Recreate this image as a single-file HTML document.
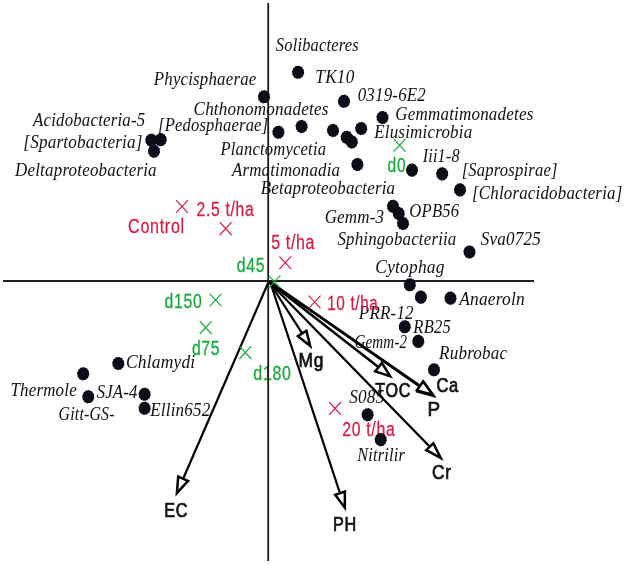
<!DOCTYPE html>
<html><head><meta charset="utf-8"><title>CCA biplot</title>
<style>html,body{margin:0;padding:0;background:#fff;width:625px;height:564px;overflow:hidden}svg{display:block}</style>
</head><body>
<svg width="625" height="564" viewBox="0 0 625 564">
<g opacity="0.999">
<text transform="translate(275.84,51.00) scale(0.9402,1.0500)" font-family="'Liberation Serif', serif" font-style="italic" font-size="17.5" fill="#111111" letter-spacing="0.2">Solibacteres</text>
<text transform="translate(315.36,82.60) scale(0.9863,1.0500)" font-family="'Liberation Serif', serif" font-style="italic" font-size="17.5" fill="#111111" letter-spacing="0.2">TK10</text>
<text transform="translate(153.77,85.40) scale(0.9640,1.0500)" font-family="'Liberation Serif', serif" font-style="italic" font-size="17.5" fill="#111111" letter-spacing="0.2">Phycisphaerae</text>
<text transform="translate(357.69,100.90) scale(0.9677,1.0500)" font-family="'Liberation Serif', serif" font-style="italic" font-size="17.5" fill="#111111" letter-spacing="0.2">0319-6E2</text>
<text transform="translate(193.55,114.90) scale(0.9763,1.0500)" font-family="'Liberation Serif', serif" font-style="italic" font-size="17.5" fill="#111111" letter-spacing="0.2">Chthonomonadetes</text>
<text transform="translate(395.35,120.10) scale(0.9723,1.0500)" font-family="'Liberation Serif', serif" font-style="italic" font-size="17.5" fill="#111111" letter-spacing="0.2">Gemmatimonadetes</text>
<text transform="translate(158.01,130.90) scale(0.9471,1.0500)" font-family="'Liberation Serif', serif" font-style="italic" font-size="17.5" fill="#111111" letter-spacing="0.2">[Pedosphaerae]</text>
<text transform="translate(33.01,125.90) scale(0.9618,1.0500)" font-family="'Liberation Serif', serif" font-style="italic" font-size="17.5" fill="#111111" letter-spacing="0.2">Acidobacteria-5</text>
<text transform="translate(23.27,147.60) scale(0.9819,1.0500)" font-family="'Liberation Serif', serif" font-style="italic" font-size="17.5" fill="#111111" letter-spacing="0.2">[Spartobacteria]</text>
<text transform="translate(14.97,175.60) scale(0.9723,1.0500)" font-family="'Liberation Serif', serif" font-style="italic" font-size="17.5" fill="#111111" letter-spacing="0.2">Deltaproteobacteria</text>
<text transform="translate(374.17,137.60) scale(0.9726,1.0500)" font-family="'Liberation Serif', serif" font-style="italic" font-size="17.5" fill="#111111" letter-spacing="0.2">Elusimicrobia</text>
<text transform="translate(220.47,155.00) scale(0.9473,1.0500)" font-family="'Liberation Serif', serif" font-style="italic" font-size="17.5" fill="#111111" letter-spacing="0.2">Planctomycetia</text>
<text transform="translate(231.91,176.20) scale(0.9636,1.0500)" font-family="'Liberation Serif', serif" font-style="italic" font-size="17.5" fill="#111111" letter-spacing="0.2">Armatimonadia</text>
<text transform="translate(422.66,162.40) scale(0.9248,1.0500)" font-family="'Liberation Serif', serif" font-style="italic" font-size="17.5" fill="#111111" letter-spacing="0.2">Iii1-8</text>
<text transform="translate(461.70,175.90) scale(0.9490,1.0500)" font-family="'Liberation Serif', serif" font-style="italic" font-size="17.5" fill="#111111" letter-spacing="0.2">[Saprospirae]</text>
<text transform="translate(260.83,193.70) scale(0.9676,1.0500)" font-family="'Liberation Serif', serif" font-style="italic" font-size="17.5" fill="#111111" letter-spacing="0.2">Betaproteobacteria</text>
<text transform="translate(471.98,198.60) scale(0.9671,1.0500)" font-family="'Liberation Serif', serif" font-style="italic" font-size="17.5" fill="#111111" letter-spacing="0.2">[Chloracidobacteria]</text>
<text transform="translate(324.65,222.90) scale(0.9708,1.0500)" font-family="'Liberation Serif', serif" font-style="italic" font-size="17.5" fill="#111111" letter-spacing="0.2">Gemm-3</text>
<text transform="translate(409.37,217.00) scale(0.9524,1.0500)" font-family="'Liberation Serif', serif" font-style="italic" font-size="17.5" fill="#111111" letter-spacing="0.2">OPB56</text>
<text transform="translate(337.43,245.20) scale(0.9619,1.0500)" font-family="'Liberation Serif', serif" font-style="italic" font-size="17.5" fill="#111111" letter-spacing="0.2">Sphingobacteriia</text>
<text transform="translate(480.83,244.90) scale(0.9754,1.0500)" font-family="'Liberation Serif', serif" font-style="italic" font-size="17.5" fill="#111111" letter-spacing="0.2">Sva0725</text>
<text transform="translate(375.33,272.90) scale(0.9960,1.0500)" font-family="'Liberation Serif', serif" font-style="italic" font-size="17.5" fill="#111111" letter-spacing="0.2">Cytophag</text>
<text transform="translate(459.24,305.00) scale(0.9936,1.0500)" font-family="'Liberation Serif', serif" font-style="italic" font-size="17.5" fill="#111111" letter-spacing="0.2">Anaeroln</text>
<text transform="translate(358.87,319.00) scale(0.9702,1.0500)" font-family="'Liberation Serif', serif" font-style="italic" font-size="17.5" fill="#111111" letter-spacing="0.2">PRR-12</text>
<text transform="translate(413.37,332.80) scale(0.9464,1.0500)" font-family="'Liberation Serif', serif" font-style="italic" font-size="17.5" fill="#111111" letter-spacing="0.2">RB25</text>
<text transform="translate(354.45,347.70) scale(0.8596,1.0500)" font-family="'Liberation Serif', serif" font-style="italic" font-size="17.5" fill="#111111" letter-spacing="0.2">Gemm-2</text>
<text transform="translate(439.07,358.70) scale(0.9753,1.0500)" font-family="'Liberation Serif', serif" font-style="italic" font-size="17.5" fill="#111111" letter-spacing="0.2">Rubrobac</text>
<text transform="translate(349.23,402.50) scale(0.9857,1.0500)" font-family="'Liberation Serif', serif" font-style="italic" font-size="17.5" fill="#111111" letter-spacing="0.2">S085</text>
<text transform="translate(357.16,460.70) scale(0.9361,1.0500)" font-family="'Liberation Serif', serif" font-style="italic" font-size="17.5" fill="#111111" letter-spacing="0.2">Nitrilir</text>
<text transform="translate(126.03,368.00) scale(0.9960,1.0500)" font-family="'Liberation Serif', serif" font-style="italic" font-size="17.5" fill="#111111" letter-spacing="0.2">Chlamydi</text>
<text transform="translate(10.48,396.20) scale(0.9668,1.0500)" font-family="'Liberation Serif', serif" font-style="italic" font-size="17.5" fill="#111111" letter-spacing="0.2">Thermole</text>
<text transform="translate(96.63,398.00) scale(0.9571,1.0500)" font-family="'Liberation Serif', serif" font-style="italic" font-size="17.5" fill="#111111" letter-spacing="0.2">SJA-4</text>
<text transform="translate(58.61,419.80) scale(0.9070,1.0500)" font-family="'Liberation Serif', serif" font-style="italic" font-size="17.5" fill="#111111" letter-spacing="0.2">Gitt-GS-</text>
<text transform="translate(150.17,415.90) scale(0.9740,1.0500)" font-family="'Liberation Serif', serif" font-style="italic" font-size="17.5" fill="#111111" letter-spacing="0.2">Ellin652</text>
<text transform="translate(128.09,233.10) scale(0.8571,1.0700)" font-family="'Liberation Sans', sans-serif" font-style="normal" font-size="18.8" fill="#d81b45" letter-spacing="0.8" stroke="#d81b45" stroke-width="0.25">Control</text>
<text transform="translate(196.61,216.10) scale(0.8357,1.0700)" font-family="'Liberation Sans', sans-serif" font-style="normal" font-size="18.8" fill="#d81b45" letter-spacing="0.8" stroke="#d81b45" stroke-width="0.25">2.5 t/ha</text>
<text transform="translate(271.16,249.20) scale(0.8475,1.0700)" font-family="'Liberation Sans', sans-serif" font-style="normal" font-size="18.8" fill="#d81b45" letter-spacing="0.8" stroke="#d81b45" stroke-width="0.25">5 t/ha</text>
<text transform="translate(327.13,309.90) scale(0.8151,1.0700)" font-family="'Liberation Sans', sans-serif" font-style="normal" font-size="18.8" fill="#d81b45" letter-spacing="0.8" stroke="#d81b45" stroke-width="0.25">10 t/ha</text>
<text transform="translate(342.21,436.30) scale(0.8442,1.0700)" font-family="'Liberation Sans', sans-serif" font-style="normal" font-size="18.8" fill="#d81b45" letter-spacing="0.8" stroke="#d81b45" stroke-width="0.25">20 t/ha</text>
<text transform="translate(387.58,171.80) scale(0.8274,1.0700)" font-family="'Liberation Sans', sans-serif" font-style="normal" font-size="18.8" fill="#16a83a" letter-spacing="0.8" stroke="#16a83a" stroke-width="0.25">d0</text>
<text transform="translate(236.87,271.90) scale(0.8390,1.0700)" font-family="'Liberation Sans', sans-serif" font-style="normal" font-size="18.8" fill="#16a83a" letter-spacing="0.8" stroke="#16a83a" stroke-width="0.25">d45</text>
<text transform="translate(164.57,307.80) scale(0.8399,1.0700)" font-family="'Liberation Sans', sans-serif" font-style="normal" font-size="18.8" fill="#16a83a" letter-spacing="0.8" stroke="#16a83a" stroke-width="0.25">d150</text>
<text transform="translate(191.97,354.60) scale(0.8359,1.0700)" font-family="'Liberation Sans', sans-serif" font-style="normal" font-size="18.8" fill="#16a83a" letter-spacing="0.8" stroke="#16a83a" stroke-width="0.25">d75</text>
<text transform="translate(253.36,379.80) scale(0.8515,1.0700)" font-family="'Liberation Sans', sans-serif" font-style="normal" font-size="18.8" fill="#16a83a" letter-spacing="0.8" stroke="#16a83a" stroke-width="0.25">d180</text>
<text transform="translate(164.31,517.10) scale(0.8583,1.0700)" font-family="'Liberation Sans', sans-serif" font-style="normal" font-size="18.8" fill="#111111" letter-spacing="0.8" stroke="#111111" stroke-width="0.7">EC</text>
<text transform="translate(332.90,530.80) scale(0.8644,1.0700)" font-family="'Liberation Sans', sans-serif" font-style="normal" font-size="18.8" fill="#111111" letter-spacing="0.8" stroke="#111111" stroke-width="0.7">PH</text>
<text transform="translate(298.51,367.30) scale(0.9236,1.0700)" font-family="'Liberation Sans', sans-serif" font-style="normal" font-size="18.8" fill="#111111" letter-spacing="0.8" stroke="#111111" stroke-width="0.7">Mg</text>
<text transform="translate(375.18,397.30) scale(0.8581,1.0700)" font-family="'Liberation Sans', sans-serif" font-style="normal" font-size="18.8" fill="#111111" letter-spacing="0.8" stroke="#111111" stroke-width="0.7">TOC</text>
<text transform="translate(436.38,391.60) scale(0.8768,1.0700)" font-family="'Liberation Sans', sans-serif" font-style="normal" font-size="18.8" fill="#111111" letter-spacing="0.8" stroke="#111111" stroke-width="0.7">Ca</text>
<text transform="translate(427.49,415.90) scale(1.0047,1.0700)" font-family="'Liberation Sans', sans-serif" font-style="normal" font-size="18.8" fill="#111111" letter-spacing="0.8" stroke="#111111" stroke-width="0.7">P</text>
<text transform="translate(432.03,478.90) scale(0.9206,1.0700)" font-family="'Liberation Sans', sans-serif" font-style="normal" font-size="18.8" fill="#111111" letter-spacing="0.8" stroke="#111111" stroke-width="0.7">Cr</text>
</g>
<rect x="3" y="280" width="531" height="2" fill="#1e1e1e"/>
<rect x="267.3" y="3" width="1.8" height="558" fill="#1a1a1a"/>
<line x1="268.3" y1="282.5" x2="183.35" y2="478.21" stroke="#000" stroke-width="2.2"/>
<path d="M178.21,476.66 L176.87,493.12 L187.98,480.90 Z" fill="#fff" stroke="#000" stroke-width="2.5" stroke-linejoin="miter"/>
<line x1="270.3" y1="282.5" x2="339.81" y2="492.60" stroke="#000" stroke-width="2.2"/>
<path d="M335.14,494.81 L344.79,507.64 L344.88,491.58 Z" fill="#fff" stroke="#000" stroke-width="2.5" stroke-linejoin="miter"/>
<line x1="269.5" y1="282.5" x2="301.86" y2="332.94" stroke="#000" stroke-width="2.2"/>
<path d="M297.97,336.18 L310.15,345.87 L306.43,330.75 Z" fill="#fff" stroke="#000" stroke-width="2.5" stroke-linejoin="miter"/>
<line x1="269.5" y1="282.5" x2="429.35" y2="446.23" stroke="#000" stroke-width="2.3"/>
<path d="M426.24,450.14 L440.75,457.91 L433.32,443.22 Z" fill="#fff" stroke="#000" stroke-width="2.5" stroke-linejoin="miter"/>
<line x1="269.5" y1="282.3" x2="378.02" y2="366.74" stroke="#000" stroke-width="2.5"/>
<path d="M375.20,371.39 L390.17,376.18 L381.84,362.86 Z" fill="#fff" stroke="#000" stroke-width="2.5" stroke-linejoin="miter"/>
<line x1="269.5" y1="281.8" x2="420.22" y2="386.62" stroke="#000" stroke-width="2.5"/>
<path d="M417.64,391.43 L433.45,395.82 L423.83,382.53 Z" fill="#fff" stroke="#000" stroke-width="2.5" stroke-linejoin="miter"/>
<line x1="269.5" y1="281.8" x2="419.50" y2="385.56" stroke="#000" stroke-width="2.5"/>
<path d="M416.93,390.37 L432.74,394.72 L423.09,381.46 Z" fill="#fff" stroke="#000" stroke-width="2.5" stroke-linejoin="miter"/>
<polygon points="304.27,73.19 303.45,74.73 303.04,76.46 301.63,77.34 300.49,78.61 298.86,78.60 297.29,79.08 295.89,78.17 294.32,77.73 293.51,76.17 292.35,74.92 292.36,73.14 291.93,71.41 292.75,69.87 293.16,68.14 294.57,67.26 295.71,65.99 297.34,66.00 298.91,65.52 300.31,66.43 301.88,66.87 302.69,68.43 303.85,69.68 303.84,71.46" fill="#0b0e18"/>
<polygon points="270.17,97.69 269.35,99.23 268.94,100.96 267.53,101.84 266.39,103.11 264.76,103.10 263.19,103.58 261.79,102.67 260.22,102.23 259.41,100.67 258.25,99.42 258.26,97.64 257.83,95.91 258.65,94.37 259.06,92.64 260.47,91.76 261.61,90.49 263.24,90.50 264.81,90.02 266.21,90.93 267.78,91.37 268.59,92.93 269.75,94.18 269.74,95.96" fill="#0b0e18"/>
<polygon points="350.17,102.19 349.35,103.73 348.94,105.46 347.53,106.34 346.39,107.61 344.76,107.60 343.19,108.08 341.79,107.17 340.22,106.73 339.41,105.17 338.25,103.92 338.26,102.14 337.83,100.41 338.65,98.87 339.06,97.14 340.47,96.26 341.61,94.99 343.24,95.00 344.81,94.52 346.21,95.43 347.78,95.87 348.59,97.43 349.75,98.68 349.74,100.46" fill="#0b0e18"/>
<polygon points="388.67,118.39 387.85,119.93 387.44,121.66 386.03,122.54 384.89,123.81 383.26,123.80 381.69,124.28 380.29,123.37 378.72,122.93 377.91,121.37 376.75,120.12 376.76,118.34 376.33,116.61 377.15,115.07 377.56,113.34 378.97,112.46 380.11,111.19 381.74,111.20 383.31,110.72 384.71,111.63 386.28,112.07 387.09,113.63 388.25,114.88 388.24,116.66" fill="#0b0e18"/>
<polygon points="284.57,133.09 283.75,134.63 283.34,136.36 281.93,137.24 280.79,138.51 279.16,138.50 277.59,138.98 276.19,138.07 274.62,137.63 273.81,136.07 272.65,134.82 272.66,133.04 272.23,131.31 273.05,129.77 273.46,128.04 274.87,127.16 276.01,125.89 277.64,125.90 279.21,125.42 280.61,126.33 282.18,126.77 282.99,128.33 284.15,129.58 284.14,131.36" fill="#0b0e18"/>
<polygon points="307.77,127.39 306.95,128.93 306.54,130.66 305.13,131.54 303.99,132.81 302.36,132.80 300.79,133.28 299.39,132.37 297.82,131.93 297.01,130.37 295.85,129.12 295.86,127.34 295.43,125.61 296.25,124.07 296.66,122.34 298.07,121.46 299.21,120.19 300.84,120.20 302.41,119.72 303.81,120.63 305.38,121.07 306.19,122.63 307.35,123.88 307.34,125.66" fill="#0b0e18"/>
<polygon points="339.17,131.39 338.35,132.93 337.94,134.66 336.53,135.54 335.39,136.81 333.76,136.80 332.19,137.28 330.79,136.37 329.22,135.93 328.41,134.37 327.25,133.12 327.26,131.34 326.83,129.61 327.65,128.07 328.06,126.34 329.47,125.46 330.61,124.19 332.24,124.20 333.81,123.72 335.21,124.63 336.78,125.07 337.59,126.63 338.75,127.88 338.74,129.66" fill="#0b0e18"/>
<polygon points="352.87,138.19 352.05,139.73 351.64,141.46 350.23,142.34 349.09,143.61 347.46,143.60 345.89,144.08 344.49,143.17 342.92,142.73 342.11,141.17 340.95,139.92 340.96,138.14 340.53,136.41 341.35,134.87 341.76,133.14 343.17,132.26 344.31,130.99 345.94,131.00 347.51,130.52 348.91,131.43 350.48,131.87 351.29,133.43 352.45,134.68 352.44,136.46" fill="#0b0e18"/>
<polygon points="357.97,142.79 357.15,144.33 356.74,146.06 355.33,146.94 354.19,148.21 352.56,148.20 350.99,148.68 349.59,147.77 348.02,147.33 347.21,145.77 346.05,144.52 346.06,142.74 345.63,141.01 346.45,139.47 346.86,137.74 348.27,136.86 349.41,135.59 351.04,135.60 352.61,135.12 354.01,136.03 355.58,136.47 356.39,138.03 357.55,139.28 357.54,141.06" fill="#0b0e18"/>
<polygon points="367.37,129.39 366.55,130.93 366.14,132.66 364.73,133.54 363.59,134.81 361.96,134.80 360.39,135.28 358.99,134.37 357.42,133.93 356.61,132.37 355.45,131.12 355.46,129.34 355.03,127.61 355.85,126.07 356.26,124.34 357.67,123.46 358.81,122.19 360.44,122.20 362.01,121.72 363.41,122.63 364.98,123.07 365.79,124.63 366.95,125.88 366.94,127.66" fill="#0b0e18"/>
<polygon points="363.57,165.39 362.75,166.93 362.34,168.66 360.93,169.54 359.79,170.81 358.16,170.80 356.59,171.28 355.19,170.37 353.62,169.93 352.81,168.37 351.65,167.12 351.66,165.34 351.23,163.61 352.05,162.07 352.46,160.34 353.87,159.46 355.01,158.19 356.64,158.20 358.21,157.72 359.61,158.63 361.18,159.07 361.99,160.63 363.15,161.88 363.14,163.66" fill="#0b0e18"/>
<polygon points="418.17,170.99 417.35,172.53 416.94,174.26 415.53,175.14 414.39,176.41 412.76,176.40 411.19,176.88 409.79,175.97 408.22,175.53 407.41,173.97 406.25,172.72 406.26,170.94 405.83,169.21 406.65,167.67 407.06,165.94 408.47,165.06 409.61,163.79 411.24,163.80 412.81,163.32 414.21,164.23 415.78,164.67 416.59,166.23 417.75,167.48 417.74,169.26" fill="#0b0e18"/>
<polygon points="448.37,174.79 447.55,176.33 447.14,178.06 445.73,178.94 444.59,180.21 442.96,180.20 441.39,180.68 439.99,179.77 438.42,179.33 437.61,177.77 436.45,176.52 436.46,174.74 436.03,173.01 436.85,171.47 437.26,169.74 438.67,168.86 439.81,167.59 441.44,167.60 443.01,167.12 444.41,168.03 445.98,168.47 446.79,170.03 447.95,171.28 447.94,173.06" fill="#0b0e18"/>
<polygon points="466.17,190.79 465.35,192.33 464.94,194.06 463.53,194.94 462.39,196.21 460.76,196.20 459.19,196.68 457.79,195.77 456.22,195.33 455.41,193.77 454.25,192.52 454.26,190.74 453.83,189.01 454.65,187.47 455.06,185.74 456.47,184.86 457.61,183.59 459.24,183.60 460.81,183.12 462.21,184.03 463.78,184.47 464.59,186.03 465.75,187.28 465.74,189.06" fill="#0b0e18"/>
<polygon points="157.47,141.09 156.65,142.63 156.24,144.36 154.83,145.24 153.69,146.51 152.06,146.50 150.49,146.98 149.09,146.07 147.52,145.63 146.71,144.07 145.55,142.82 145.56,141.04 145.13,139.31 145.95,137.77 146.36,136.04 147.77,135.16 148.91,133.89 150.54,133.90 152.11,133.42 153.51,134.33 155.08,134.77 155.89,136.33 157.05,137.58 157.04,139.36" fill="#0b0e18"/>
<polygon points="166.87,140.59 166.05,142.13 165.64,143.86 164.23,144.74 163.09,146.01 161.46,146.00 159.89,146.48 158.49,145.57 156.92,145.13 156.11,143.57 154.95,142.32 154.96,140.54 154.53,138.81 155.35,137.27 155.76,135.54 157.17,134.66 158.31,133.39 159.94,133.40 161.51,132.92 162.91,133.83 164.48,134.27 165.29,135.83 166.45,137.08 166.44,138.86" fill="#0b0e18"/>
<polygon points="160.17,152.09 159.35,153.63 158.94,155.36 157.53,156.24 156.39,157.51 154.76,157.50 153.19,157.98 151.79,157.07 150.22,156.63 149.41,155.07 148.25,153.82 148.26,152.04 147.83,150.31 148.65,148.77 149.06,147.04 150.47,146.16 151.61,144.89 153.24,144.90 154.81,144.42 156.21,145.33 157.78,145.77 158.59,147.33 159.75,148.58 159.74,150.36" fill="#0b0e18"/>
<polygon points="399.17,207.19 398.35,208.73 397.94,210.46 396.53,211.34 395.39,212.61 393.76,212.60 392.19,213.08 390.79,212.17 389.22,211.73 388.41,210.17 387.25,208.92 387.26,207.14 386.83,205.41 387.65,203.87 388.06,202.14 389.47,201.26 390.61,199.99 392.24,200.00 393.81,199.52 395.21,200.43 396.78,200.87 397.59,202.43 398.75,203.68 398.74,205.46" fill="#0b0e18"/>
<polygon points="404.87,214.39 404.05,215.93 403.64,217.66 402.23,218.54 401.09,219.81 399.46,219.80 397.89,220.28 396.49,219.37 394.92,218.93 394.11,217.37 392.95,216.12 392.96,214.34 392.53,212.61 393.35,211.07 393.76,209.34 395.17,208.46 396.31,207.19 397.94,207.20 399.51,206.72 400.91,207.63 402.48,208.07 403.29,209.63 404.45,210.88 404.44,212.66" fill="#0b0e18"/>
<polygon points="409.17,224.39 408.35,225.93 407.94,227.66 406.53,228.54 405.39,229.81 403.76,229.80 402.19,230.28 400.79,229.37 399.22,228.93 398.41,227.37 397.25,226.12 397.26,224.34 396.83,222.61 397.65,221.07 398.06,219.34 399.47,218.46 400.61,217.19 402.24,217.20 403.81,216.72 405.21,217.63 406.78,218.07 407.59,219.63 408.75,220.88 408.74,222.66" fill="#0b0e18"/>
<polygon points="475.67,252.89 474.85,254.43 474.44,256.16 473.03,257.04 471.89,258.31 470.26,258.30 468.69,258.78 467.29,257.87 465.72,257.43 464.91,255.87 463.75,254.62 463.76,252.84 463.33,251.11 464.15,249.57 464.56,247.84 465.97,246.96 467.11,245.69 468.74,245.70 470.31,245.22 471.71,246.13 473.28,246.57 474.09,248.13 475.25,249.38 475.24,251.16" fill="#0b0e18"/>
<polygon points="415.97,285.69 415.15,287.23 414.74,288.96 413.33,289.84 412.19,291.11 410.56,291.10 408.99,291.58 407.59,290.67 406.02,290.23 405.21,288.67 404.05,287.42 404.06,285.64 403.63,283.91 404.45,282.37 404.86,280.64 406.27,279.76 407.41,278.49 409.04,278.50 410.61,278.02 412.01,278.93 413.58,279.37 414.39,280.93 415.55,282.18 415.54,283.96" fill="#0b0e18"/>
<polygon points="427.07,297.99 426.25,299.53 425.84,301.26 424.43,302.14 423.29,303.41 421.66,303.40 420.09,303.88 418.69,302.97 417.12,302.53 416.31,300.97 415.15,299.72 415.16,297.94 414.73,296.21 415.55,294.67 415.96,292.94 417.37,292.06 418.51,290.79 420.14,290.80 421.71,290.32 423.11,291.23 424.68,291.67 425.49,293.23 426.65,294.48 426.64,296.26" fill="#0b0e18"/>
<polygon points="456.67,298.99 455.85,300.53 455.44,302.26 454.03,303.14 452.89,304.41 451.26,304.40 449.69,304.88 448.29,303.97 446.72,303.53 445.91,301.97 444.75,300.72 444.76,298.94 444.33,297.21 445.15,295.67 445.56,293.94 446.97,293.06 448.11,291.79 449.74,291.80 451.31,291.32 452.71,292.23 454.28,292.67 455.09,294.23 456.25,295.48 456.24,297.26" fill="#0b0e18"/>
<polygon points="410.97,327.69 410.15,329.23 409.74,330.96 408.33,331.84 407.19,333.11 405.56,333.10 403.99,333.58 402.59,332.67 401.02,332.23 400.21,330.67 399.05,329.42 399.06,327.64 398.63,325.91 399.45,324.37 399.86,322.64 401.27,321.76 402.41,320.49 404.04,320.50 405.61,320.02 407.01,320.93 408.58,321.37 409.39,322.93 410.55,324.18 410.54,325.96" fill="#0b0e18"/>
<polygon points="424.47,342.29 423.65,343.83 423.24,345.56 421.83,346.44 420.69,347.71 419.06,347.70 417.49,348.18 416.09,347.27 414.52,346.83 413.71,345.27 412.55,344.02 412.56,342.24 412.13,340.51 412.95,338.97 413.36,337.24 414.77,336.36 415.91,335.09 417.54,335.10 419.11,334.62 420.51,335.53 422.08,335.97 422.89,337.53 424.05,338.78 424.04,340.56" fill="#0b0e18"/>
<polygon points="440.17,370.69 439.35,372.23 438.94,373.96 437.53,374.84 436.39,376.11 434.76,376.10 433.19,376.58 431.79,375.67 430.22,375.23 429.41,373.67 428.25,372.42 428.26,370.64 427.83,368.91 428.65,367.37 429.06,365.64 430.47,364.76 431.61,363.49 433.24,363.50 434.81,363.02 436.21,363.93 437.78,364.37 438.59,365.93 439.75,367.18 439.74,368.96" fill="#0b0e18"/>
<polygon points="373.77,415.59 372.95,417.13 372.54,418.86 371.13,419.74 369.99,421.01 368.36,421.00 366.79,421.48 365.39,420.57 363.82,420.13 363.01,418.57 361.85,417.32 361.86,415.54 361.43,413.81 362.25,412.27 362.66,410.54 364.07,409.66 365.21,408.39 366.84,408.40 368.41,407.92 369.81,408.83 371.38,409.27 372.19,410.83 373.35,412.08 373.34,413.86" fill="#0b0e18"/>
<polygon points="386.87,440.49 386.05,442.03 385.64,443.76 384.23,444.64 383.09,445.91 381.46,445.90 379.89,446.38 378.49,445.47 376.92,445.03 376.11,443.47 374.95,442.22 374.96,440.44 374.53,438.71 375.35,437.17 375.76,435.44 377.17,434.56 378.31,433.29 379.94,433.30 381.51,432.82 382.91,433.73 384.48,434.17 385.29,435.73 386.45,436.98 386.44,438.76" fill="#0b0e18"/>
<polygon points="124.47,364.39 123.65,365.93 123.24,367.66 121.83,368.54 120.69,369.81 119.06,369.80 117.49,370.28 116.09,369.37 114.52,368.93 113.71,367.37 112.55,366.12 112.56,364.34 112.13,362.61 112.95,361.07 113.36,359.34 114.77,358.46 115.91,357.19 117.54,357.20 119.11,356.72 120.51,357.63 122.08,358.07 122.89,359.63 124.05,360.88 124.04,362.66" fill="#0b0e18"/>
<polygon points="89.37,374.69 88.55,376.23 88.14,377.96 86.73,378.84 85.59,380.11 83.96,380.10 82.39,380.58 80.99,379.67 79.42,379.23 78.61,377.67 77.45,376.42 77.46,374.64 77.03,372.91 77.85,371.37 78.26,369.64 79.67,368.76 80.81,367.49 82.44,367.50 84.01,367.02 85.41,367.93 86.98,368.37 87.79,369.93 88.95,371.18 88.94,372.96" fill="#0b0e18"/>
<polygon points="94.47,397.69 93.65,399.23 93.24,400.96 91.83,401.84 90.69,403.11 89.06,403.10 87.49,403.58 86.09,402.67 84.52,402.23 83.71,400.67 82.55,399.42 82.56,397.64 82.13,395.91 82.95,394.37 83.36,392.64 84.77,391.76 85.91,390.49 87.54,390.50 89.11,390.02 90.51,390.93 92.08,391.37 92.89,392.93 94.05,394.18 94.04,395.96" fill="#0b0e18"/>
<polygon points="150.77,395.19 149.95,396.73 149.54,398.46 148.13,399.34 146.99,400.61 145.36,400.60 143.79,401.08 142.39,400.17 140.82,399.73 140.01,398.17 138.85,396.92 138.86,395.14 138.43,393.41 139.25,391.87 139.66,390.14 141.07,389.26 142.21,387.99 143.84,388.00 145.41,387.52 146.81,388.43 148.38,388.87 149.19,390.43 150.35,391.68 150.34,393.46" fill="#0b0e18"/>
<polygon points="150.77,409.19 149.95,410.73 149.54,412.46 148.13,413.34 146.99,414.61 145.36,414.60 143.79,415.08 142.39,414.17 140.82,413.73 140.01,412.17 138.85,410.92 138.86,409.14 138.43,407.41 139.25,405.87 139.66,404.14 141.07,403.26 142.21,401.99 143.84,402.00 145.41,401.52 146.81,402.43 148.38,402.87 149.19,404.43 150.35,405.68 150.34,407.46" fill="#0b0e18"/>
<path d="M176.10,200.10 L187.90,212.90 M187.90,200.10 L176.10,212.90" stroke="#d81b45" stroke-width="1.15" fill="none"/>
<path d="M219.80,222.20 L231.60,235.00 M231.60,222.20 L219.80,235.00" stroke="#d81b45" stroke-width="1.15" fill="none"/>
<path d="M279.40,256.30 L291.20,269.10 M291.20,256.30 L279.40,269.10" stroke="#d81b45" stroke-width="1.15" fill="none"/>
<path d="M308.70,295.60 L320.50,308.40 M320.50,295.60 L308.70,308.40" stroke="#d81b45" stroke-width="1.15" fill="none"/>
<path d="M329.10,402.00 L340.90,414.80 M340.90,402.00 L329.10,414.80" stroke="#d81b45" stroke-width="1.15" fill="none"/>
<path d="M393.70,138.90 L405.50,151.70 M405.50,138.90 L393.70,151.70" stroke="#16a83a" stroke-width="1.15" fill="none"/>
<path d="M268.60,275.30 L280.40,288.10 M280.40,275.30 L268.60,288.10" stroke="#16a83a" stroke-width="1.15" fill="none"/>
<path d="M209.60,293.60 L221.40,306.40 M221.40,293.60 L209.60,306.40" stroke="#16a83a" stroke-width="1.15" fill="none"/>
<path d="M199.80,321.20 L211.60,334.00 M211.60,321.20 L199.80,334.00" stroke="#16a83a" stroke-width="1.15" fill="none"/>
<path d="M239.40,346.20 L251.20,359.00 M251.20,346.20 L239.40,359.00" stroke="#16a83a" stroke-width="1.15" fill="none"/>
</svg>
</body></html>
